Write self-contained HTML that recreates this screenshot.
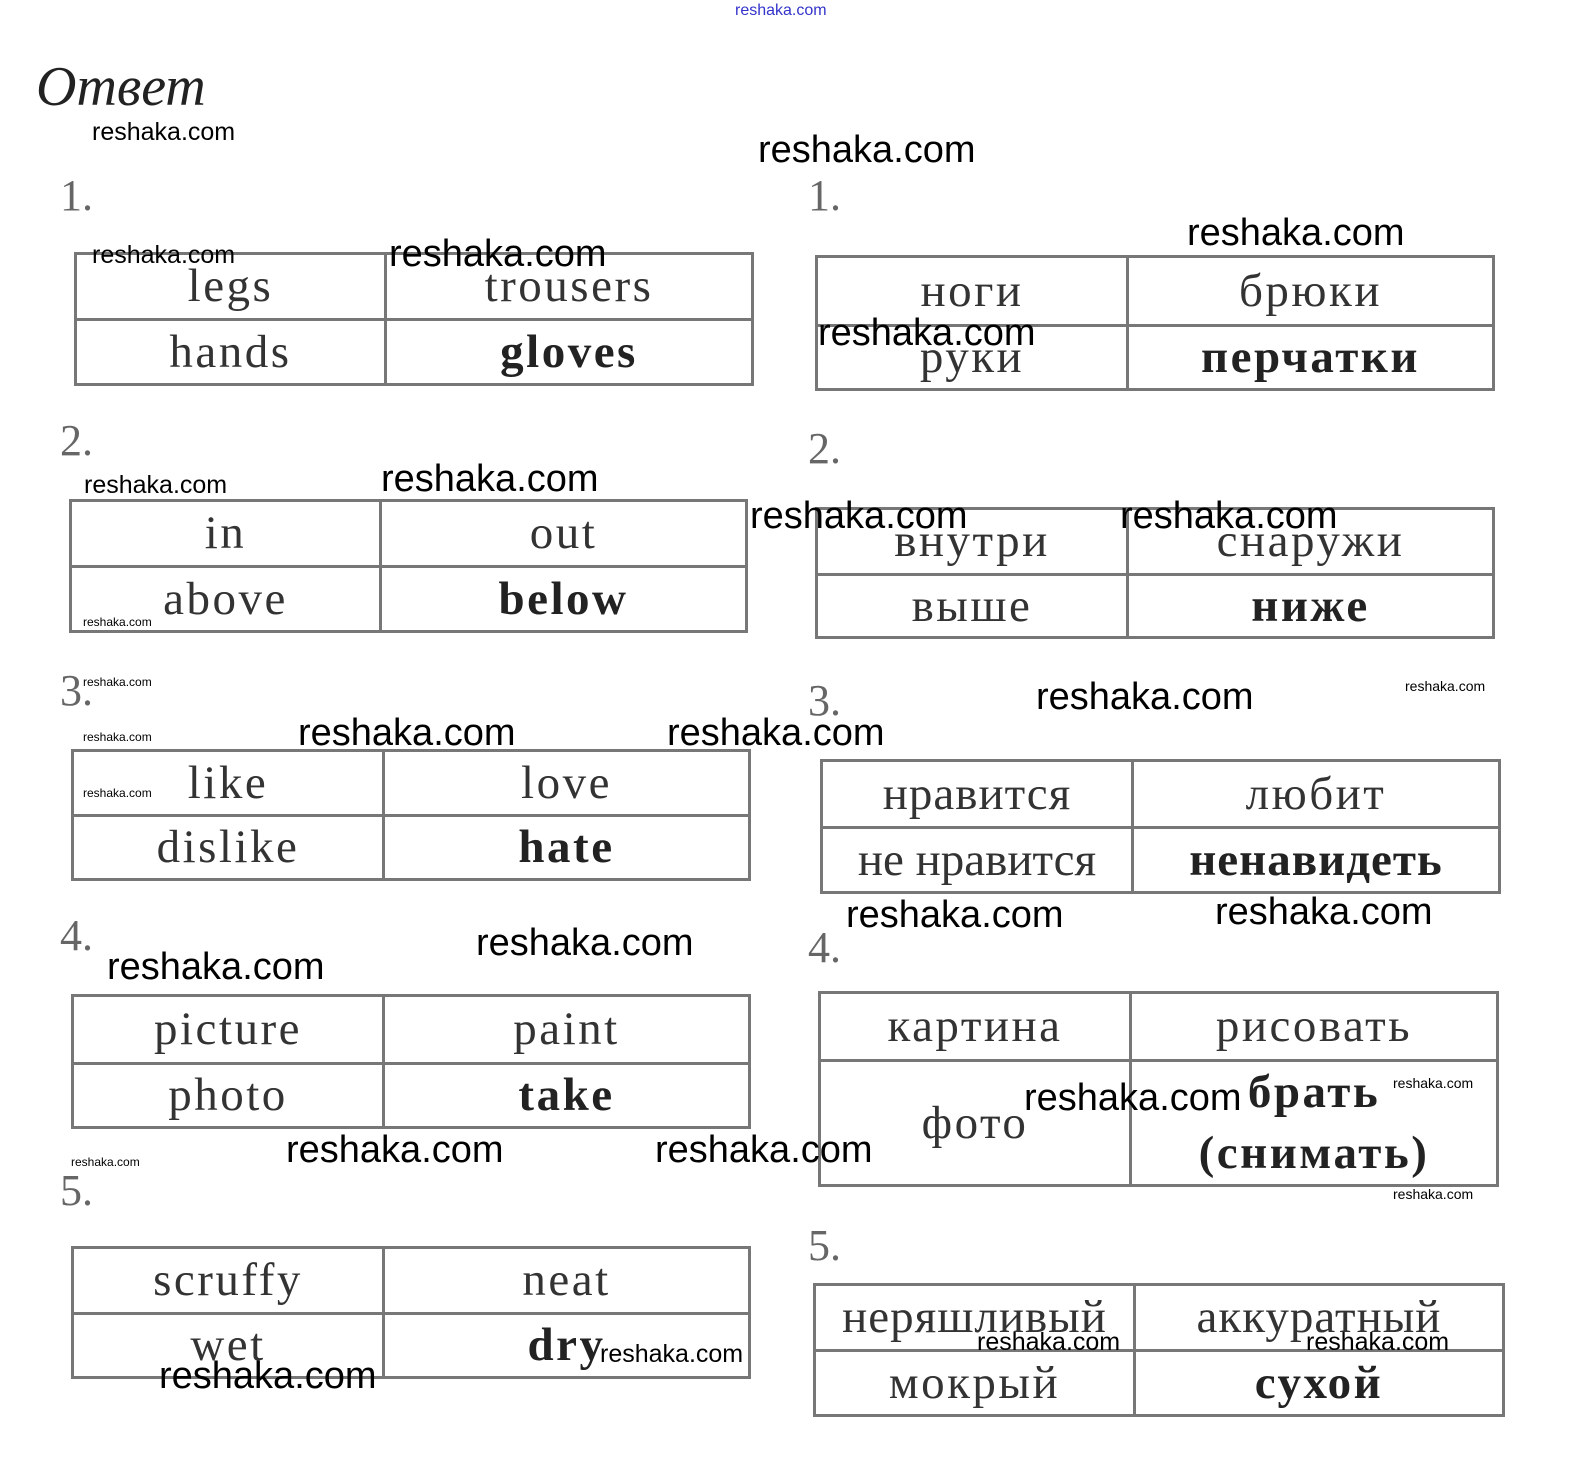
<!DOCTYPE html>
<html><head><meta charset="utf-8"><style>
body{margin:0;width:1580px;height:1482px;background:#fff;position:relative;overflow:hidden;font-family:"Liberation Serif",serif}
.t{position:absolute;border:3px solid #777;box-sizing:border-box;display:grid}
.t div{display:flex;align-items:center;justify-content:center;font-size:47px;color:#333;box-sizing:border-box;line-height:1;letter-spacing:2.5px;white-space:nowrap}
.r{border-right:3px solid #777}.b{border-bottom:3px solid #777}
.bd{font-weight:bold;color:#222!important}
.n{position:absolute;font-size:44px;color:#666}
.w{position:absolute;font-family:"Liberation Sans",sans-serif;color:#000;white-space:nowrap;line-height:1}
.L{font-size:38px}.M{font-size:25px}.S{font-size:12px}
</style></head><body>
<div class="w" style="left:735px;top:3px;font-size:16px;color:#33c">reshaka.com</div>
<div style="position:absolute;left:36px;top:55px;font-size:56px;font-style:italic;color:#222">Ответ</div>
<div class="w M" style="left:92px;top:120px">reshaka.com</div>
<div class="w L" style="left:758px;top:131px">reshaka.com</div>

<div class="n" style="left:60px;top:170px">1.</div>
<div class="n" style="left:60px;top:415px">2.</div>
<div class="n" style="left:60px;top:665px">3.</div>
<div class="n" style="left:60px;top:910px">4.</div>
<div class="n" style="left:60px;top:1165px">5.</div>
<div class="n" style="left:808px;top:170px">1.</div>
<div class="n" style="left:808px;top:423px">2.</div>
<div class="n" style="left:808px;top:675px">3.</div>
<div class="n" style="left:808px;top:922px">4.</div>
<div class="n" style="left:808px;top:1220px">5.</div>

<div class="t" style="left:74px;top:252px;width:680px;height:134px;grid-template-columns:310px 1fr;grid-template-rows:66px 1fr"><div class="r b">legs</div><div class="b">trousers</div><div class="r">hands</div><div class="bd">gloves</div></div>
<div class="t" style="left:69px;top:499px;width:679px;height:134px;grid-template-columns:310px 1fr;grid-template-rows:66px 1fr"><div class="r b">in</div><div class="b">out</div><div class="r">above</div><div class="bd">below</div></div>
<div class="t" style="left:71px;top:749px;width:680px;height:132px;grid-template-columns:311px 1fr;grid-template-rows:65px 1fr"><div class="r b">like</div><div class="b">love</div><div class="r">dislike</div><div class="bd">hate</div></div>
<div class="t" style="left:71px;top:994px;width:680px;height:135px;grid-template-columns:311px 1fr;grid-template-rows:68px 1fr"><div class="r b">picture</div><div class="b">paint</div><div class="r">photo</div><div class="bd">take</div></div>
<div class="t" style="left:71px;top:1246px;width:680px;height:133px;grid-template-columns:311px 1fr;grid-template-rows:66px 1fr"><div class="r b">scruffy</div><div class="b">neat</div><div class="r">wet</div><div class="bd">dry</div></div>

<div class="t" style="left:815px;top:255px;width:680px;height:136px;grid-template-columns:311px 1fr;grid-template-rows:69px 1fr"><div class="r b">ноги</div><div class="b">брюки</div><div class="r">руки</div><div class="bd">перчатки</div></div>
<div class="t" style="left:815px;top:507px;width:680px;height:132px;grid-template-columns:311px 1fr;grid-template-rows:66px 1fr"><div class="r b">внутри</div><div class="b">снаружи</div><div class="r">выше</div><div class="bd">ниже</div></div>
<div class="t" style="left:820px;top:759px;width:681px;height:135px;grid-template-columns:311px 1fr;grid-template-rows:67px 1fr"><div class="r b" style="letter-spacing:1px">нравится</div><div class="b">любит</div><div class="r" style="letter-spacing:0">не нравится</div><div class="bd" style="letter-spacing:1px">ненавидеть</div></div>
<div class="t" style="left:818px;top:991px;width:681px;height:196px;grid-template-columns:311px 1fr;grid-template-rows:68px 1fr"><div class="r b">картина</div><div class="b">рисовать</div><div class="r">фото</div><div class="bd" style="text-align:center;line-height:1.3;white-space:normal">брать<br>(снимать)</div></div>
<div class="t" style="left:813px;top:1283px;width:692px;height:134px;grid-template-columns:320px 1fr;grid-template-rows:66px 1fr"><div class="r b" style="letter-spacing:1px">неряшливый</div><div class="b" style="letter-spacing:1px">аккуратный</div><div class="r">мокрый</div><div class="bd">сухой</div></div>

<div class="w M" style="left:92px;top:243px">reshaka.com</div>
<div class="w L" style="left:389px;top:235px">reshaka.com</div>
<div class="w L" style="left:1187px;top:214px">reshaka.com</div>
<div class="w L" style="left:818px;top:314px">reshaka.com</div>
<div class="w M" style="left:84px;top:473px">reshaka.com</div>
<div class="w L" style="left:381px;top:460px">reshaka.com</div>
<div class="w L" style="left:750px;top:497px">reshaka.com</div>
<div class="w L" style="left:1120px;top:497px">reshaka.com</div>
<div class="w S" style="left:83px;top:616px">reshaka.com</div>
<div class="w S" style="left:83px;top:676px">reshaka.com</div>
<div class="w S" style="left:83px;top:731px">reshaka.com</div>
<div class="w S" style="left:83px;top:787px">reshaka.com</div>
<div class="w L" style="left:1036px;top:678px">reshaka.com</div>
<div class="w" style="left:1405px;top:679px;font-size:14px">reshaka.com</div>
<div class="w L" style="left:298px;top:714px">reshaka.com</div>
<div class="w L" style="left:667px;top:714px">reshaka.com</div>
<div class="w L" style="left:846px;top:896px">reshaka.com</div>
<div class="w L" style="left:1215px;top:893px">reshaka.com</div>
<div class="w L" style="left:476px;top:924px">reshaka.com</div>
<div class="w L" style="left:107px;top:948px">reshaka.com</div>
<div class="w L" style="left:1024px;top:1079px">reshaka.com</div>
<div class="w" style="left:1393px;top:1076px;font-size:14px">reshaka.com</div>
<div class="w" style="left:1393px;top:1187px;font-size:14px">reshaka.com</div>
<div class="w L" style="left:286px;top:1131px">reshaka.com</div>
<div class="w L" style="left:655px;top:1131px">reshaka.com</div>
<div class="w S" style="left:71px;top:1156px">reshaka.com</div>
<div class="w M" style="left:600px;top:1342px">reshaka.com</div>
<div class="w L" style="left:159px;top:1357px">reshaka.com</div>
<div class="w M" style="left:977px;top:1330px">reshaka.com</div>
<div class="w M" style="left:1306px;top:1330px">reshaka.com</div>
</body></html>
